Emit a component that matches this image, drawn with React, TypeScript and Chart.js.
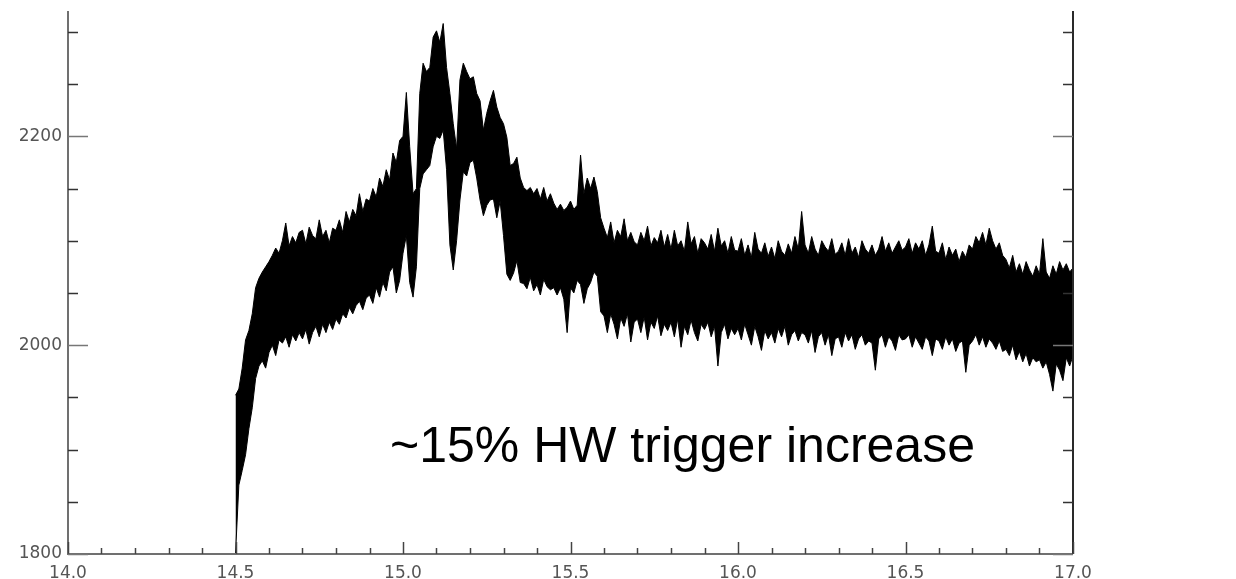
import React, { useEffect, useRef } from "react";
import { Chart, registerables } from "chart.js";

Chart.register(...registerables);

// Sample grid of the trace (x in the plot's units)
const X_START = 14.5;
const X_STEP = 0.01;

// Upper envelope of the noisy trace, one value per 0.01 from 14.50 to 17.00
const upperEnvelope = [
  1952, 1958, 1978, 2005, 2014, 2030, 2055, 2064, 2070, 2075,
  2080, 2086, 2093, 2088, 2100, 2117, 2095, 2104, 2098, 2108,
  2110, 2097, 2113, 2105, 2102, 2120, 2104, 2110, 2098, 2112,
  2110, 2120, 2108, 2128, 2118, 2130, 2124, 2145, 2128, 2140,
  2138, 2150, 2142, 2160, 2152, 2168, 2158, 2184, 2175, 2196,
  2200, 2242, 2190, 2145, 2150, 2241, 2270, 2262, 2266, 2295,
  2301, 2290, 2308, 2266, 2241, 2212, 2188, 2254, 2270, 2262,
  2255, 2257, 2241, 2234, 2206, 2222, 2234, 2244, 2228, 2218,
  2212, 2199, 2172, 2174, 2180, 2160, 2151, 2148, 2151, 2145,
  2150, 2140, 2151, 2138, 2145, 2136, 2130, 2135, 2129, 2132,
  2138, 2130, 2134, 2182, 2145, 2160, 2150, 2161, 2147, 2122,
  2112, 2103, 2118, 2098, 2110, 2104, 2121, 2100, 2108, 2099,
  2096, 2108, 2100, 2114, 2095, 2103, 2098, 2110, 2094, 2106,
  2092, 2110, 2095, 2100, 2090, 2118, 2097, 2104, 2088, 2102,
  2098, 2092, 2106, 2090, 2112, 2095, 2100, 2088, 2104, 2091,
  2090, 2102, 2086, 2096, 2084, 2108, 2092, 2088, 2098, 2085,
  2094, 2083, 2100, 2090, 2086, 2097, 2088, 2104, 2092, 2128,
  2096, 2088, 2104, 2092, 2086, 2100, 2094, 2090, 2102, 2087,
  2090, 2098, 2086, 2102, 2088, 2094, 2084, 2100, 2092, 2088,
  2096, 2086, 2092, 2104, 2090, 2098, 2088, 2094, 2100, 2091,
  2094, 2102, 2088, 2098, 2092, 2100, 2086, 2096, 2114, 2090,
  2088, 2098, 2082, 2094, 2086, 2092, 2080, 2090, 2084, 2096,
  2092, 2104, 2098, 2108, 2096, 2112, 2100, 2092, 2098, 2086,
  2082, 2074, 2086, 2070, 2078, 2068, 2080, 2072, 2066, 2076,
  2068, 2102, 2070, 2064, 2076, 2068, 2080, 2072, 2078, 2070,
  2074,
];

// Lower envelope of the noisy trace, same sample grid
const lowerEnvelope = [
  1800, 1866, 1880, 1895, 1920, 1940, 1968, 1980, 1985, 1978,
  1993, 2000, 1990, 2005, 2002, 2008, 1998, 2010, 2004, 2012,
  2006, 2015, 2001, 2012, 2018, 2008, 2020, 2012, 2022, 2015,
  2025, 2020, 2030, 2026, 2036, 2030, 2038, 2042, 2034, 2045,
  2048, 2040, 2055, 2046, 2060, 2052, 2070, 2075, 2050, 2062,
  2088, 2105, 2060, 2046, 2075, 2150, 2164, 2168, 2172, 2190,
  2200, 2198, 2206, 2168, 2096, 2072, 2100, 2139, 2166, 2162,
  2175, 2177, 2160, 2139, 2124, 2134, 2139, 2140, 2122, 2138,
  2105, 2068, 2062, 2069, 2081, 2060, 2059, 2054, 2065, 2052,
  2058, 2048, 2063, 2056, 2053, 2055, 2048, 2055, 2044, 2012,
  2055, 2050, 2062, 2058, 2040, 2054, 2060, 2070, 2066, 2032,
  2028, 2012, 2030, 2020, 2006, 2026, 2018, 2030, 2003, 2022,
  2025, 2012, 2027, 2005, 2022, 2016, 2028, 2009, 2020, 2014,
  2022, 2008, 2025, 1998, 2018, 2010, 2024, 2012, 2004, 2020,
  2015, 2022, 2008, 2018, 1980, 2012, 2020, 2006, 2016, 2010,
  2016, 2005, 2020, 2010, 2000, 2018, 2008, 1995, 2014, 2006,
  2012, 2002, 2016, 2008, 2018, 2000, 2010, 2014, 2004, 2012,
  2010, 2002, 2014, 1993, 2008, 2012, 2000, 2010, 1990, 2006,
  2008, 1998, 2012, 2004, 2010, 1996, 2006, 2010, 2000, 2004,
  2002, 1976, 2006, 2010, 1998, 2008, 2004, 1995, 2010, 2005,
  2006, 2010, 1998, 2008, 2002, 1996, 2008, 2004, 1990, 2006,
  2004, 1996, 2008, 2000, 2006, 1994, 2002, 2004, 1974, 2000,
  2004, 2010, 2000, 2008, 1998, 2006, 2002, 1996, 2004, 1994,
  1996, 1990, 2000, 1986, 1994, 1984, 1992, 1980, 1988, 1984,
  1986, 1978, 1984, 1972, 1956, 1982, 1976, 1966, 1988, 1980,
  1990,
];

const xTickLabels = [14.0, 14.5, 15.0, 15.5, 16.0, 16.5, 17.0];
const yTickLabels = [1800, 2000, 2200];
const xMinorTicks = [
  14.0, 14.1, 14.2, 14.3, 14.4, 14.5, 14.6, 14.7, 14.8, 14.9,
  15.0, 15.1, 15.2, 15.3, 15.4, 15.5, 15.6, 15.7, 15.8, 15.9,
  16.0, 16.1, 16.2, 16.3, 16.4, 16.5, 16.6, 16.7, 16.8, 16.9, 17.0,
];
const yMinorTicks = [1800, 1850, 1900, 1950, 2000, 2050, 2100, 2150, 2200, 2250, 2300];
const annotationText = "~15% HW trigger increase";

export default function App() {
  const canvasRef = useRef<HTMLCanvasElement>(null);

  useEffect(() => {
    const canvas = canvasRef.current;
    if (!canvas) return;

    const xs = upperEnvelope.map((_, i) => Math.round((X_START + i * X_STEP) * 100) / 100);

    const axesPlugin = {
      id: "idlAxes",
      afterDraw(chart: any) {
        const { ctx, chartArea: a, scales } = chart;
        const sx = scales.x;
        const sy = scales.y;
        ctx.save();
        // axis lines
        ctx.lineWidth = 2;
        ctx.strokeStyle = "#707070";
        ctx.beginPath();
        ctx.moveTo(a.left, a.top);
        ctx.lineTo(a.left, a.bottom);
        ctx.lineTo(a.right, a.bottom);
        ctx.stroke();
        ctx.strokeStyle = "#2a2a2a";
        ctx.beginPath();
        ctx.moveTo(a.right, a.top);
        ctx.lineTo(a.right, a.bottom);
        ctx.stroke();

        // ticks
        ctx.lineWidth = 1.5;
        ctx.strokeStyle = "#444";
        for (const v of xMinorTicks) {
          const px = Math.round(sx.getPixelForValue(v)) + 0.5;
          const major = xTickLabels.some((t) => Math.abs(t - v) < 1e-6);
          const len = major ? 12 : 6;
          ctx.beginPath();
          ctx.moveTo(px, a.bottom);
          ctx.lineTo(px, a.bottom - len);
          ctx.stroke();
        }
        for (const v of yMinorTicks) {
          const py = Math.round(sy.getPixelForValue(v)) + 0.5;
          const major = yTickLabels.includes(v);
          const len = major ? 20 : 10;
          ctx.strokeStyle = major ? "#777" : "#333";
          ctx.beginPath();
          ctx.moveTo(a.left, py);
          ctx.lineTo(a.left + len, py);
          ctx.moveTo(a.right, py);
          ctx.lineTo(a.right - len, py);
          ctx.stroke();
        }

        // annotation
        ctx.fillStyle = "#000";
        ctx.font = '50px "Liberation Sans", Arial, sans-serif';
        ctx.textBaseline = "alphabetic";
        ctx.textAlign = "left";
        ctx.fillText(annotationText, 390, 462);
        ctx.restore();
      },
    };

    const tickFont = { family: '"DejaVu Sans", sans-serif', size: 17 };

    const chart = new Chart(canvas, {
      type: "line",
      data: {
        datasets: [
          {
            label: "upper",
            data: xs.map((x, i) => ({ x, y: upperEnvelope[i] })),
            borderColor: "#000",
            backgroundColor: "#000",
            borderWidth: 1,
            pointRadius: 0,
            fill: "+1",
            tension: 0,
          },
          {
            label: "lower",
            data: xs.map((x, i) => ({ x, y: lowerEnvelope[i] })),
            borderColor: "#000",
            backgroundColor: "#000",
            borderWidth: 1,
            pointRadius: 0,
            fill: false,
            tension: 0,
          },
        ],
      },
      options: {
        responsive: false,
        animation: false,
        devicePixelRatio: 1,
        layout: { padding: { top: 11, right: 163, left: 0, bottom: 0 } },
        plugins: { legend: { display: false }, tooltip: { enabled: false } },
        scales: {
          x: {
            type: "linear",
            min: 14,
            max: 17,
            grid: { display: false, drawTicks: false },
            border: { display: false },
            afterBuildTicks: (s: any) => {
              s.ticks = xTickLabels.map((v) => ({ value: v }));
            },
            afterFit: (s: any) => {
              s.height = 25;
              s.paddingLeft = 0;
              s.paddingRight = 0;
            },
            ticks: {
              padding: 9,
              font: tickFont,
              color: "#555",
              autoSkip: false,
              maxRotation: 0,
              callback: (v: any) => Number(v).toFixed(1),
            },
          },
          y: {
            type: "linear",
            min: 1800,
            max: 2320,
            grid: { display: false, drawTicks: false },
            border: { display: false },
            afterBuildTicks: (s: any) => {
              s.ticks = yTickLabels.map((v) => ({ value: v }));
            },
            afterFit: (s: any) => {
              s.width = 68;
              s.paddingTop = 0;
              s.paddingBottom = 0;
            },
            ticks: {
              padding: 6,
              font: tickFont,
              color: "#555",
              callback: (v: any) => String(v),
            },
          },
        },
      },
      plugins: [axesPlugin],
    });

    return () => chart.destroy();
  }, []);

  return (
    <div style={{ position: "fixed", left: 0, top: 0, width: 1236, height: 579, background: "#fff" }}>
      <canvas ref={canvasRef} width={1236} height={579} style={{ display: "block" }} />
    </div>
  );
}
